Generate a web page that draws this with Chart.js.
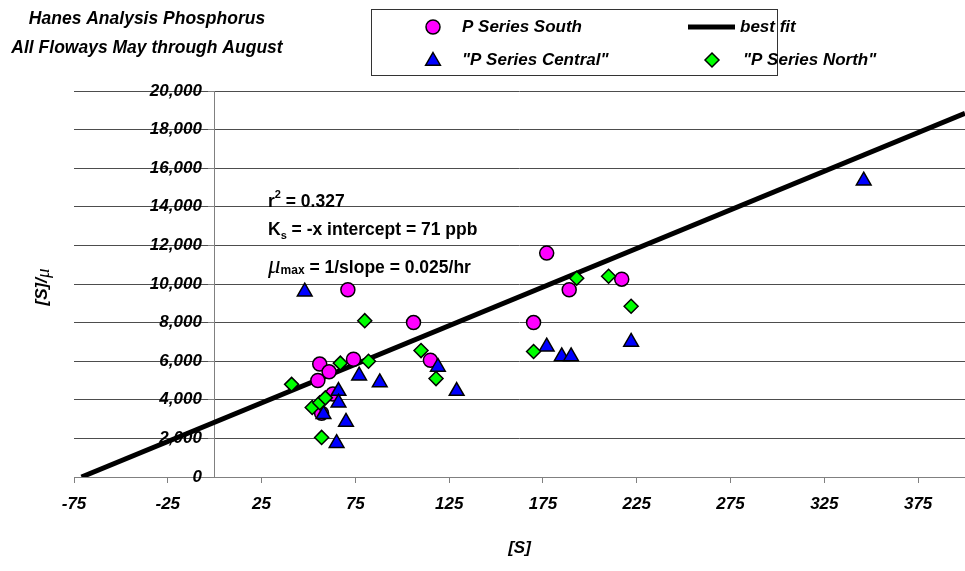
<!DOCTYPE html>
<html>
<head>
<meta charset="utf-8">
<script src="https://cdn.jsdelivr.net/npm/chart.js@4.4.0/dist/chart.umd.min.js"></script>
<style>
  html, body { margin: 0; padding: 0; background: #fff; }
  #wrap { position: relative; width: 965px; height: 571px; }
</style>
</head>
<body>
<div id="wrap"><canvas id="phosChart"></canvas></div>
<script>
// Values
const seriesNames = ['P Series South', '"P Series Central"', '"P Series North"', 'best fit'];

const southX = [56, 61, 55, 74, 63, 57, 71, 106, 115, 177, 189, 170, 217];
const southY = [5850, 5450, 5000, 6100, 4300, 3300, 9700, 8000, 6050, 11600, 9700, 8000, 10250];

const centralX = [48, 58, 66, 66, 70, 65, 77, 88, 119, 129, 177, 185, 190, 222, 346];
const centralY = [9600, 3250, 4450, 3850, 2850, 1750, 5250, 4900, 5700, 4450, 6750, 6250, 6250, 7000, 15350];

const northX = [41, 52, 56, 59, 57, 67, 82, 80, 110, 118, 170, 193, 210, 222];
const northY = [4800, 3600, 3850, 4100, 2050, 5900, 6000, 8100, 6550, 5100, 6500, 10300, 10400, 8850];

// best fit line end points
const fitX = [-71, 400];
const fitY = [0, 18840];

const xTicks = [-75, -25, 25, 75, 125, 175, 225, 275, 325, 375];
const xMin = -75, xMax = 400;
const yMin = 0, yMax = 20000, yStep = 2000;

const titleLines = ['Hanes Analysis Phosphorus', 'All Floways May through August'];

const toPoints = (xs, ys) => xs.map((x, i) => ({ x: x, y: ys[i] }));

const FONT = "'Liberation Sans', Arial, sans-serif";
const AXIS_GRAY = '#808080';

Chart.defaults.font.family = FONT;
Chart.defaults.font.size = 17;
Chart.defaults.font.style = 'italic';
Chart.defaults.font.weight = 'bold';
Chart.defaults.color = '#000';

// Title, annotations, y title and the boxed legend
const textPlugin = {
    id: 'chartTexts',
    afterDraw(chart) {
        const ctx = chart.ctx;
        ctx.save();
        ctx.fillStyle = '#000';

        // title, top left
        ctx.font = `italic bold 17.5px ${FONT}`;
        ctx.textAlign = 'center';
        ctx.textBaseline = 'middle';
        ctx.fillText(titleLines[0], 147, 19);
        ctx.fillText(titleLines[1], 147, 48);

        // annotation block
        ctx.textAlign = 'left';
        ctx.textBaseline = 'alphabetic';
        const runs = (x, y, parts) => {
            parts.forEach(p => {
                ctx.font = p[1];
                ctx.fillText(p[0], x, y + (p[2] || 0));
                x += ctx.measureText(p[0]).width;
            });
        };
        const big = `bold 17.5px ${FONT}`;
        const small = `bold 11px ${FONT}`;
        runs(268, 207, [['r', big], ['2', small, -9], [' = 0.327', big]]);
        runs(268, 235, [['K', big], ['s', small, 4], [' = -x intercept = 71 ppb', big]]);
        runs(268, 273, [['\u03bc', `italic 25px 'Liberation Serif', serif`], ['max', `bold 12px ${FONT}`, 1], [' = 1/slope = 0.025/hr', big]]);

        // y axis title, rotated
        ctx.save();
        ctx.translate(42, 287);
        ctx.rotate(-Math.PI / 2);
        ctx.textBaseline = 'middle';
        const f1 = `italic bold 17px ${FONT}`;
        const f2 = `italic 19px 'Liberation Serif', serif`;
        ctx.font = f1;
        const w1 = ctx.measureText('[S]/').width;
        ctx.font = f2;
        const w2 = ctx.measureText('\u03bc').width;
        let sx = -(w1 + w2) / 2;
        ctx.font = f1;
        ctx.fillText('[S]/', sx, 0);
        ctx.font = f2;
        ctx.fillText('\u03bc', sx + w1, 2);
        ctx.restore();

        // legend box
        ctx.strokeStyle = '#333';
        ctx.lineWidth = 1;
        ctx.strokeRect(371.5, 9.5, 406, 66);
        const ds = chart.data.datasets;
        const drawMark = (d, cx, cy) => {
            ctx.fillStyle = d.backgroundColor;
            ctx.strokeStyle = d.borderColor;
            ctx.lineWidth = d.borderWidth;
            ctx.beginPath();
            const r = d.pointRadius;
            if (d.pointStyle === 'circle') {
                ctx.arc(cx, cy, r, 0, Math.PI * 2);
            } else if (d.pointStyle === 'triangle') {
                ctx.moveTo(cx, cy - r);
                ctx.lineTo(cx + r * 0.866, cy + r / 2);
                ctx.lineTo(cx - r * 0.866, cy + r / 2);
                ctx.closePath();
            } else {
                ctx.moveTo(cx - r, cy);
                ctx.lineTo(cx, cy - r);
                ctx.lineTo(cx + r, cy);
                ctx.lineTo(cx, cy + r);
                ctx.closePath();
            }
            ctx.fill();
            ctx.stroke();
        };
        ctx.font = `italic bold 17px ${FONT}`;
        ctx.textBaseline = 'middle';
        drawMark(ds[0], 433, 27);
        ctx.fillStyle = '#000';
        ctx.fillText(ds[0].label, 462, 27);
        drawMark(ds[1], 433, 61);
        ctx.fillStyle = '#000';
        ctx.fillText(ds[1].label, 462, 60);
        drawMark(ds[2], 712, 60);
        ctx.fillStyle = '#000';
        ctx.fillText(ds[2].label, 743, 60);
        ctx.strokeStyle = ds[3].borderColor;
        ctx.lineWidth = ds[3].borderWidth;
        ctx.beginPath();
        ctx.moveTo(688, 27);
        ctx.lineTo(735, 27);
        ctx.stroke();
        ctx.fillText(ds[3].label, 740, 27);

        ctx.restore();
    }
};

const ctx = document.getElementById('phosChart').getContext('2d');
new Chart(ctx, {
    type: 'scatter',
    data: {
        datasets: [
            {
                label: seriesNames[0],
                data: toPoints(southX, southY),
                pointStyle: 'circle',
                pointRadius: 7,
                backgroundColor: '#ff00ff',
                borderColor: '#000',
                borderWidth: 1.5,
                order: 3
            },
            {
                label: seriesNames[1],
                data: toPoints(centralX, centralY),
                pointStyle: 'triangle',
                pointRadius: 8.5,
                backgroundColor: '#0000ff',
                borderColor: '#000',
                borderWidth: 1.5,
                order: 2
            },
            {
                label: seriesNames[2],
                data: toPoints(northX, northY),
                pointStyle: 'rectRot',
                pointRadius: 7,
                backgroundColor: '#00ff00',
                borderColor: '#000',
                borderWidth: 1.5,
                order: 1
            },
            {
                type: 'line',
                label: seriesNames[3],
                data: toPoints(fitX, fitY),
                borderColor: '#000',
                backgroundColor: '#000',
                borderWidth: 5,
                pointRadius: 0,
                fill: false,
                order: 4
            }
        ]
    },
    options: {
        responsive: true,
        maintainAspectRatio: false,
        animation: false,
        layout: { autoPadding: false, padding: { left: 74, top: 91, right: 0, bottom: 0 } },
        plugins: {
            legend: { display: false },
            tooltip: { enabled: false }
        },
        scales: {
            x: {
                type: 'linear',
                min: xMin,
                max: xMax,
                afterBuildTicks: s => { s.ticks = xTicks.map(v => ({ value: v })); },
                afterFit: s => { s.height = 94; s.paddingLeft = 0; s.paddingRight = 0; },
                grid: { drawOnChartArea: false, tickLength: 6, color: AXIS_GRAY },
                border: { color: AXIS_GRAY },
                ticks: { padding: 11, maxRotation: 0, autoSkip: false },
                title: { display: true, text: '[S]', padding: { top: 0, bottom: 12 } }
            },
            y: {
                type: 'linear',
                position: { x: 0 },
                min: yMin,
                max: yMax,
                grid: { color: '#4d4d4d', tickLength: 6, tickColor: AXIS_GRAY },
                border: { color: AXIS_GRAY },
                ticks: {
                    stepSize: yStep,
                    // labels sit right-aligned on the axis line, trailing gap keeps them clear of the tick marks
                    callback: v => v.toLocaleString('en-US') + '  \u2009'
                }
            }
        }
    },
    plugins: [textPlugin]
});
</script>
</body>
</html>
